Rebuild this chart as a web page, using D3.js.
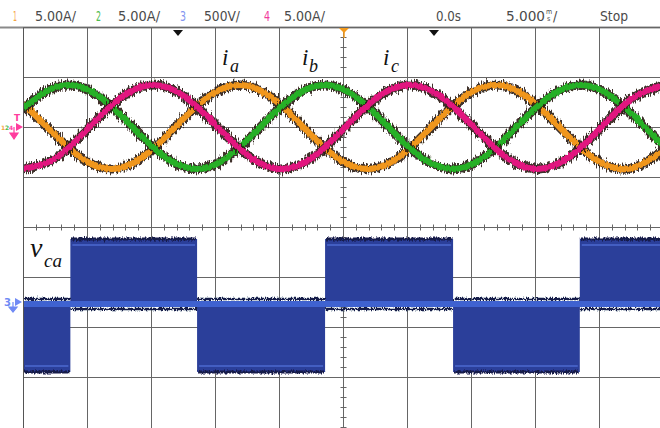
<!DOCTYPE html>
<html>
<head>
<meta charset="utf-8">
<script src="https://cdn.jsdelivr.net/npm/d3@7"></script>
<style>
  body { margin: 0; background: #fff; }
  svg { display: block; }
  .hdr { font-family: "Liberation Sans Narrow", "DejaVu Sans Condensed", "Liberation Sans", sans-serif; font-size: 14px; fill: #4a4a4a; }
  .sym { font-family: "Liberation Serif", "DejaVu Serif", serif; font-style: italic; fill: #111; }
</style>
</head>
<body>
<script>
// time base: ms, 5 ms / div, trigger at 0
const timeTicks = d3.range(-25, 26, 5);
const sampleTimes = d3.range(-25, 25.01, 2.5);

// phase currents (A), read every 2.5 ms
const ia = [2.36, -0.79, -3.47, -4.13, -2.36, 0.79, 3.47, 4.13, 2.36, -0.79, -3.47,
            -4.13, -2.36, 0.79, 3.47, 4.13, 2.36, -0.79, -3.47, -4.13, -2.36];
const ib = [1.85, 3.97, 3.77, 1.36, -1.85, -3.97, -3.77, -1.36, 1.85, 3.97, 3.77,
            1.36, -1.85, -3.97, -3.77, -1.36, 1.85, 3.97, 3.77, 1.36, -1.85];
const ic = [-4.19, -3.15, -0.26, 2.78, 4.19, 3.15, 0.26, -2.78, -4.19, -3.15, -0.26,
            2.78, 4.19, 3.15, 0.26, -2.78, -4.19, -3.15, -0.26, 2.78, 4.19];

// line voltage v_ca (V): switching instants (ms) and level of each interval
const switchTimes = [-25, -21.3, -11.4, -1.4, 8.6, 18.5, 25];
const vLevels = [-680, 650, -680, 650, -680, 650];

const headerLabels = ["1", "5.00A/", "2", "5.00A/", "3", "500V/", "4", "5.00A/", "0.0s", "5.000", "Stop"];

const W = 660, H = 428;
const x = d3.scaleLinear().domain([-25, 25]).range([23, 663]);
const yI = d3.scaleLinear().domain([-30, 10]).range([427, 27]);   // 5 A/div
const yV = d3.scaleLinear().domain([-1230, 2770]).range([427, 27]); // 500 V/div

const svg = d3.select("body").append("svg")
  .attr("width", W).attr("height", H);

const defs = svg.append("defs");
defs.append("clipPath").attr("id", "plot")
  .append("rect").attr("x", 23).attr("y", 28).attr("width", W - 23).attr("height", H - 28);

function fuzz(id, freq, scale, seed) {
  const f = defs.append("filter").attr("id", id)
    .attr("filterUnits", "userSpaceOnUse")
    .attr("x", 0).attr("y", 0).attr("width", W).attr("height", H);
  f.append("feTurbulence").attr("type", "fractalNoise")
    .attr("baseFrequency", freq).attr("numOctaves", 2).attr("seed", seed).attr("result", "n");
  f.append("feDisplacementMap").attr("in", "SourceGraphic").attr("in2", "n")
    .attr("scale", scale).attr("xChannelSelector", "R").attr("yChannelSelector", "G");
}
fuzz("fuzzDark", "0.8 0.12", 9, 3);
fuzz("fuzzCore", "0.6 0.15", 3.5, 8);
fuzz("fuzzEdge", "0.9 0.3", 5, 5);

// header
svg.append("line").attr("x1", 0).attr("x2", W).attr("y1", 27.5).attr("y2", 27.5)
  .attr("stroke", "#8a8a8a").attr("stroke-width", 2);

const hdrLayout = [
  { x: 13, w: 4, c: "#f5a447" }, { x: 35, w: 41 },
  { x: 96, w: 5, c: "#4cbb4c" }, { x: 118, w: 42 },
  { x: 180, w: 6, c: "#8395f0" }, { x: 204, w: 36 },
  { x: 264, w: 6, c: "#f0399b" }, { x: 284, w: 41 },
  { x: 436, w: 25 }, { x: 506, w: 39 }, { x: 600, w: 28 }
];
headerLabels.forEach((t, i) => {
  const L = hdrLayout[i];
  svg.append("text").attr("class", "hdr")
    .attr("x", L.x).attr("y", 21)
    .attr("textLength", L.w).attr("lengthAdjust", "spacingAndGlyphs")
    .style("fill", L.c || null)
    .text(t);
});
// tiny stacked "ms" unit + slash
svg.append("text").attr("class", "hdr").attr("x", 546).attr("y", 14).style("font-size", "7px").text("m");
svg.append("text").attr("class", "hdr").attr("x", 547).attr("y", 21).style("font-size", "7px").text("s");
svg.append("text").attr("class", "hdr").attr("x", 553).attr("y", 21).text("/");

// grid
const grid = svg.append("g").attr("stroke", "#666").attr("stroke-width", 1);
grid.selectAll("line.v").data(timeTicks).join("line")
  .attr("x1", d => Math.round(x(d)) + 0.5).attr("x2", d => Math.round(x(d)) + 0.5)
  .attr("y1", 28).attr("y2", H);
grid.selectAll("line.h").data(d3.range(-25, 11, 5)).join("line")
  .attr("x1", 23).attr("x2", W)
  .attr("y1", d => Math.round(yI(d)) + 0.5).attr("y2", d => Math.round(yI(d)) + 0.5);

// centre-line minor ticks
const cy = Math.round(yI(-10)) + 0.5, cx = Math.round(x(0)) + 0.5;
grid.selectAll("line.tx").data(d3.range(-25, 25.01, 1)).join("line")
  .attr("x1", d => Math.round(x(d)) + 0.5).attr("x2", d => Math.round(x(d)) + 0.5)
  .attr("y1", cy - 3).attr("y2", cy + 3);
grid.selectAll("line.ty").data(d3.range(-30, 10.01, 1)).join("line")
  .attr("x1", cx - 3).attr("x2", cx + 3)
  .attr("y1", d => Math.round(yI(d)) + 0.5).attr("y2", d => Math.round(yI(d)) + 0.5);

// markers at top
svg.append("path").attr("d", "M173,30 L183,30 L178,36 Z").attr("fill", "#111");
svg.append("path").attr("d", "M429,30 L439,30 L434,36 Z").attr("fill", "#111");
svg.append("path").attr("d", "M339,28 L349,28 L344,33 Z").attr("fill", "#f39a1c");
svg.append("line").attr("x1", 344).attr("x2", 344).attr("y1", 32).attr("y2", 38)
  .attr("stroke", "#f39a1c").attr("stroke-width", 1.5);

const plot = svg.append("g").attr("clip-path", "url(#plot)");

// voltage v_ca
const segs = vLevels.map((v, i) => ({ t0: switchTimes[i], t1: switchTimes[i + 1], v }));
const y0 = yV(0);
const vg = plot.append("g");
vg.selectAll("rect").data(segs).join("rect")
  .attr("x", d => x(d.t0)).attr("width", d => x(d.t1) - x(d.t0))
  .attr("y", d => Math.min(y0, yV(d.v))).attr("height", d => Math.abs(yV(d.v) - y0))
  .attr("fill", "#2b3f9a");
vg.selectAll("line.edge").data(segs).join("line")
  .attr("x1", d => x(d.t0) + 1).attr("x2", d => x(d.t1) - 1)
  .attr("y1", d => yV(d.v)).attr("y2", d => yV(d.v))
  .attr("stroke", "#141c4a").attr("stroke-width", 3).attr("filter", "url(#fuzzEdge)");
vg.selectAll("line.inner").data(segs).join("line")
  .attr("x1", d => x(d.t0) + 2).attr("x2", d => x(d.t1) - 2)
  .attr("y1", d => yV(d.v) + (d.v > 0 ? 6 : -6)).attr("y2", d => yV(d.v) + (d.v > 0 ? 6 : -6))
  .attr("stroke", "#4a66cc").attr("stroke-width", 2).attr("opacity", 0.8);
vg.selectAll("line.zfr").data(segs).join("line")
  .attr("x1", d => x(d.t0)).attr("x2", d => x(d.t1))
  .attr("y1", d => y0 + (d.v > 0 ? 5 : -5)).attr("y2", d => y0 + (d.v > 0 ? 5 : -5))
  .attr("stroke", "#141c4a").attr("stroke-width", 2.5).attr("filter", "url(#fuzzEdge)");
vg.append("line").attr("x1", 23).attr("x2", W).attr("y1", y0).attr("y2", y0)
  .attr("stroke", "#3f62d0").attr("stroke-width", 6);

// phase currents
const line = d3.line()
  .x((d, i) => x(sampleTimes[i]))
  .y(d => yI(d))
  .curve(d3.curveNatural);
const phases = [
  { data: ia, color: "#f0961e" },
  { data: ib, color: "#25b025" },
  { data: ic, color: "#e2197f" }
];
phases.forEach(p => {
  plot.append("path").attr("d", line(p.data)).attr("fill", "none")
    .attr("stroke", "#2b1a12").attr("stroke-width", 9).attr("opacity", 0.9)
    .attr("filter", "url(#fuzzDark)");
  plot.append("path").attr("d", line(p.data)).attr("fill", "none")
    .attr("stroke", p.color).attr("stroke-width", 6)
    .attr("filter", "url(#fuzzCore)");
});

// left border
svg.append("line").attr("x1", 23.5).attr("x2", 23.5).attr("y1", 28).attr("y2", H)
  .attr("stroke", "#555").attr("stroke-width", 1);

// channel markers
const m = svg.append("g").style("font-family", "DejaVu Sans, sans-serif").style("font-weight", "bold");
m.append("text").attr("x", 14).attr("y", 121).style("font-size", "9px").attr("fill", "#ff3d9e").text("T");
m.append("text").attr("x", 1).attr("y", 130).style("font-size", "6px").attr("fill", "#f5a447").text("1");
m.append("text").attr("x", 5).attr("y", 130).style("font-size", "6px").attr("fill", "#4cbb4c").text("2");
m.append("text").attr("x", 9).attr("y", 130).style("font-size", "6px").attr("fill", "#ff3d9e").text("4");
m.append("path").attr("d", "M16,123 L23,127 L16,131 Z").attr("fill", "#ff3d9e");
m.append("path").attr("d", "M14,127 L14,133 M10,133 L18,133 L14,139 Z")
  .attr("stroke", "#ff3d9e").attr("fill", "#ff3d9e").attr("stroke-width", 1.2);
m.append("text").attr("x", 4).attr("y", 306).style("font-size", "10px").attr("fill", "#6f8af5").text("3");
m.append("path").attr("d", "M15,298 L22,302 L15,306 Z").attr("fill", "#6f8af5");
m.append("path").attr("d", "M13,302 L13,307 M9,307 L17,307 L13,312 Z")
  .attr("stroke", "#6f8af5").attr("fill", "#6f8af5").attr("stroke-width", 1.2);

// symbols
function sym(base, sub, bx, by, sx, sy, fb, fs) {
  svg.append("text").attr("class", "sym").attr("x", bx).attr("y", by).style("font-size", fb + "px").text(base);
  svg.append("text").attr("class", "sym").attr("x", sx).attr("y", sy).style("font-size", fs + "px").text(sub);
}
sym("i", "a", 222, 65, 230, 72, 23, 18);
sym("i", "b", 302, 65, 309, 72, 23, 18);
sym("i", "c", 383, 65, 391, 72, 23, 18);
sym("v", "ca", 30, 257, 44, 267, 28, 19);
</script>
</body>
</html>
